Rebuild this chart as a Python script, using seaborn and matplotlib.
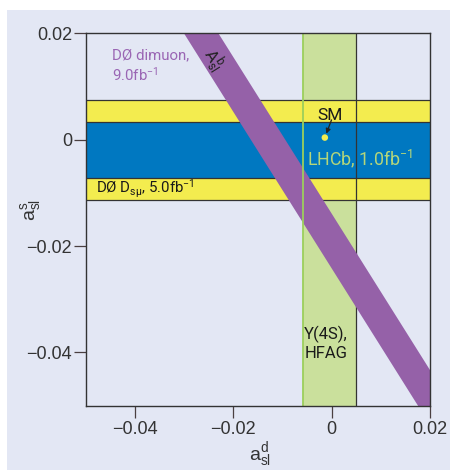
import pandas as pd
import matplotlib
matplotlib.use("Agg")
import matplotlib.pyplot as plt
import matplotlib.patches as mpatches
import seaborn as sns

# bands (a_sl^d on x, a_sl^s on y)
d0_dsmu_band = [-0.0113, 0.0075]   # yellow, DØ D_sμ
lhcb_band = [-0.0072, 0.0033]      # blue, LHCb
hfag_band = [-0.0058, 0.0050]      # green, Υ(4S) HFAG
# DØ dimuon A_sl^b band, lower and upper edge at two x positions
dimuon_x = [-0.04, 0.03]
dimuon_lo = [0.0346, -0.0683]
dimuon_hi = [0.0449, -0.0580]
# standard model point
sm_point = pd.DataFrame({'a_d': [-0.0014], 'a_s': [0.0004]})

x_ticks = [-0.04, -0.02, 0, 0.02]
y_ticks = [-0.04, -0.02, 0, 0.02]
tick_labels = ['\u22120.04', '\u22120.02', '0', '0.02']

# colours
lav = '#e3e7f4'
yellow = '#f3ec4f'
blue = '#0078c1'
green = '#cae09c'
green_line = '#9ccf5c'
purple = '#9561a8'
dark = '#333333'

sns.set_theme(style='white')
plt.rcParams['font.family'] = ['Liberation Sans', 'DejaVu Sans']
plt.rcParams['mathtext.default'] = 'regular'
narrow = ['Roboto', 'DejaVu Sans']

fig = plt.figure(figsize=(4.5, 4.7), dpi=100, facecolor='white')
fig.patches.append(mpatches.Rectangle((7 / 450, 0), 1, 460 / 470, transform=fig.transFigure,
                                      facecolor=lav, edgecolor='none', zorder=-10))
ax = fig.add_axes([86 / 450, 64.3 / 470, 344 / 450, 372.4 / 470])
ax.set_facecolor(lav)

# bands
ax.axvspan(*hfag_band, color=green, lw=0, zorder=1)
ax.axhspan(*d0_dsmu_band, color=yellow, lw=0, zorder=2)
ax.axhspan(*lhcb_band, color=blue, lw=0, zorder=3)
for y in d0_dsmu_band + lhcb_band:
    ax.axhline(y, color=dark, lw=0.9, zorder=3.5)
ax.axvline(hfag_band[1], color=dark, lw=0.9, zorder=3.5)
ax.fill_between(dimuon_x, dimuon_lo, dimuon_hi, color=purple, lw=0, zorder=4)
ax.axvline(hfag_band[0], color=green_line, lw=1.3, zorder=5)

# SM point with arrow
sns.scatterplot(data=sm_point, x='a_d', y='a_s', color=yellow, s=22, edgecolor='none',
                zorder=6, ax=ax, legend=False)
ax.annotate('', xy=(sm_point['a_d'][0], sm_point['a_s'][0]), xytext=(4.8, 12.7),
            textcoords='offset points',
            arrowprops=dict(arrowstyle='-|>', color='#222222', lw=0.9, mutation_scale=7,
                            shrinkA=0, shrinkB=3), zorder=6)

# labels inside the plot
ax.text(0.709, 0.766, 'SM', transform=ax.transAxes, ha='center', va='baseline',
        fontsize=12.5, color='#1a1a1a', family=narrow, zorder=7)
ax.text(0.643, 0.6445, 'LHCb, 1.0fb$^{-1}$', transform=ax.transAxes, ha='left', va='baseline',
        fontsize=12.8, color='#b4d67a', family=narrow, zorder=7)
ax.text(0.029, 0.5704, 'DØ D$_{s\u03bc}$, 5.0fb$^{-1}$', transform=ax.transAxes, ha='left',
        va='baseline', fontsize=10.8, color='#1a1a1a', family=narrow, zorder=7)
ax.text(0.0747, 0.930, 'DØ dimuon,', transform=ax.transAxes, ha='left', va='baseline',
        fontsize=10.8, color='#9a66b4', family=narrow, zorder=7)
ax.text(0.0747, 0.872, '9.0fb$^{-1}$', transform=ax.transAxes, ha='left', va='baseline',
        fontsize=10.8, color='#9a66b4', family=narrow, zorder=7)
ax.text(0.368, 0.929, '$A_{sl}^{b}$', transform=ax.transAxes, ha='center', va='center',
        rotation=-57.9, fontsize=12, color='#222222', family=narrow, zorder=7)
ax.text(0.698, 0.179, '\u03a5(4S),', transform=ax.transAxes, ha='center', va='baseline',
        fontsize=12, color='#1a1a1a', family=narrow, zorder=7)
ax.text(0.698, 0.127, 'HFAG', transform=ax.transAxes, ha='center', va='baseline',
        fontsize=12, color='#1a1a1a', family=narrow, zorder=7)

# axes
ax.set_xlim(-0.05, 0.02)
ax.set_ylim(-0.05, 0.02)
ax.set_xticks(x_ticks)
ax.set_xticklabels(tick_labels)
ax.set_yticks(y_ticks)
ax.set_yticklabels(tick_labels)
ax.tick_params(direction='out', length=8.6, width=0.9, color='#4a3f40', labelsize=13,
               labelcolor='#333333', bottom=True, left=True)
ax.tick_params(axis='x', pad=2.5)
ax.tick_params(axis='y', pad=1.5)
for s in ax.spines.values():
    s.set_color(dark)
    s.set_linewidth(1.0)
    s.set_zorder(8)

ax.set_xlabel('$a_{sl}^{d}$', fontsize=14, color='#333333')
ax.xaxis.set_label_coords(0.506, -0.092)
ax.set_ylabel('$a_{sl}^{s}$', fontsize=14, color='#333333')
ax.yaxis.set_label_coords(-0.125, 0.5255)

fig.savefig('out.png', dpi=100, facecolor='white')
